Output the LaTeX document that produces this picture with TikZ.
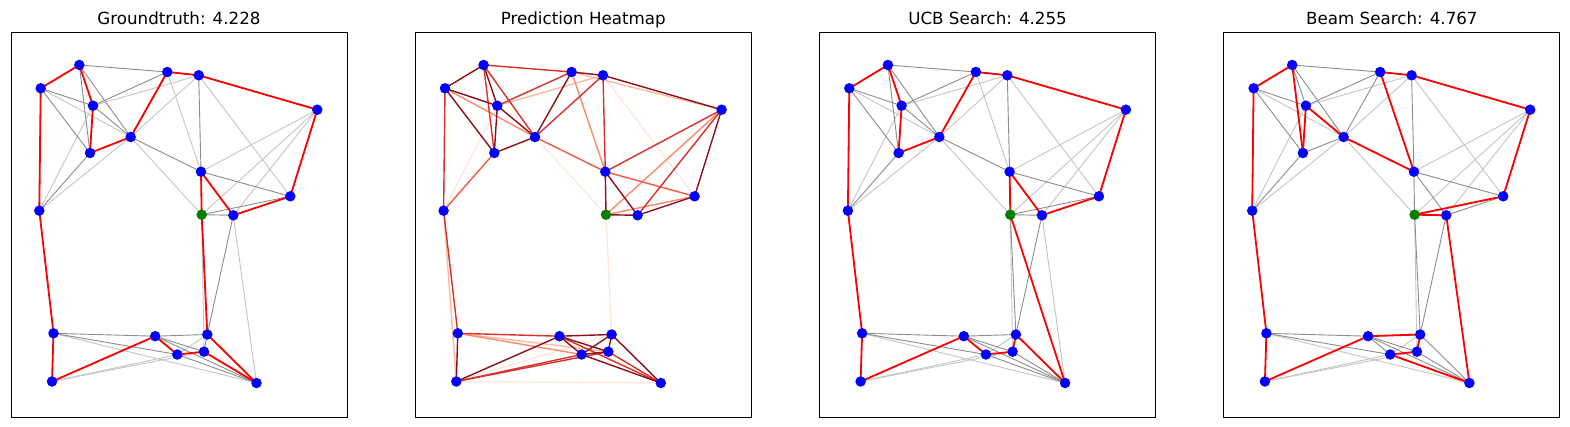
\documentclass[tikz,border=0pt]{standalone}
\usepackage{fontspec}
\setmainfont{DejaVu Sans}
\pgfdeclarelayer{edgelayer}
\pgfsetlayers{edgelayer,main}
\definecolor{nblue}{HTML}{0000FF}
\definecolor{ngreen}{HTML}{008000}
\definecolor{gdark}{HTML}{8C8C8C}
\definecolor{glight}{HTML}{C4C4C4}
\definecolor{hdark}{HTML}{8E0F17}
\definecolor{hred}{HTML}{D8302A}
\definecolor{hmid}{HTML}{F25A3E}
\definecolor{hsal}{HTML}{FC8A6A}
\definecolor{hlight}{HTML}{FCBBA1}
\definecolor{hvlight}{HTML}{FEE8DE}
\tikzset{
  dot/.style={circle,inner sep=0pt,minimum size=10.5pt,draw=none},
  frame/.style={draw=black,line width=1pt},
  gd/.style={draw=gdark,line width=0.9pt},
  gl/.style={draw=glight,line width=0.9pt},
  tour/.style={draw=red,line width=1.8pt},
  heat/.style={line width=1.4pt},
  ttl/.style={anchor=base,inner sep=0pt,font=\fontsize{16.7}{20}\selectfont}
}
\newcommand\placepanel[3]{% prefix, xshift, title
  \begin{scope}[xshift=#2]
    \draw[frame] (0,32.3) rectangle (336,417);
    \node[ttl] (#1title) at (168,24.5) {#3};
    \foreach \n/\x/\y/\c in {A/68.3/65/nblue,B/29.7/88.3/nblue,C/82/105.7/nblue,D/156.3/72/nblue,
      E/187.7/75.3/nblue,F/306.3/109.7/nblue,G/119.7/137/nblue,H/79/153/nblue,I/190/171.7/nblue,
      J/279.3/196.3/nblue,K/28.3/210.7/nblue,L/190.7/214.7/ngreen,M/222.3/215.3/nblue,
      N/42.5/333.3/nblue,O/144.2/336.2/nblue,P/196.3/334.5/nblue,Q/166.3/354.5/nblue,
      R/193/351.7/nblue,S/41/381.5/nblue,T/245.5/383/nblue}
      \node[dot,fill=\c] (#1\n) at (\x,\y) {};
  \end{scope}}
\newcommand\edgeset[3]{% prefix, style, list
  \begin{pgfonlayer}{edgelayer}
    \foreach \a/\b in {#3} \draw[#2] (#1\a.center) -- (#1\b.center);
  \end{pgfonlayer}}
\newcommand\graphedges[1]{%
  \edgeset{#1}{gl}{B/G,C/E,C/K,D/I,E/G,E/J,F/I,F/L,F/M,G/K,G/L,K/N,L/R,M/T,N/T,P/Q,Q/S,R/S}
  \edgeset{#1}{gd}{A/B,A/C,A/D,A/G,A/H,B/C,B/H,B/K,C/D,C/G,C/H,D/E,D/G,E/F,E/I,F/J,G/H,G/I,H/K,
    I/J,I/L,I/M,J/L,J/M,L/M,L/P,M/P,N/O,N/Q,N/S,O/P,O/Q,O/R,O/S,O/T,P/R,P/T,Q/R,Q/T,R/T}}
\begin{document}
\begin{tikzpicture}[x=1pt,y=-1pt]
\useasboundingbox (0,0) rectangle (1570,427);
\placepanel{a}{11pt}{Groundtruth: 4.228}
\placepanel{b}{415.3pt}{Prediction Heatmap}
\placepanel{c}{819.6pt}{UCB Search: 4.255}
\placepanel{d}{1223.9pt}{Beam Search: 4.767}
% panel 1
\graphedges{a}
\edgeset{a}{tour}{B/A,A/C,C/H,H/G,G/D,D/E,E/F,F/J,J/M,M/I,I/L,L/P,P/T,T/R,R/Q,Q/O,O/S,S/N,N/K,K/B}
% panel 2 heatmap
\edgeset{b}{heat,draw=hvlight}{C/K,G/L,E/J,L/P,S/P,S/T}
\edgeset{b}{heat,draw=hlight}{C/E,D/F,N/R,K/S}
\edgeset{b}{heat,draw=hsal}{B/G,D/I,F/L,J/L,N/Q}
\edgeset{b}{heat,draw=hmid}{G/I,H/K,I/J}
\edgeset{b}{heat,draw=hred}{A/D,A/H,A/G,B/K,C/D,E/G,E/I,F/I,F/M,K/N,N/O,S/Q,S/R,O/T,R/T}
\edgeset{b}{heat,draw=hdark}{A/B,A/C,B/C,B/H,C/H,C/G,D/E,D/G,E/F,F/J,G/H,I/L,I/M,L/M,J/M,N/S,O/S,O/P,O/Q,O/R,P/Q,P/R,P/T,Q/R,Q/T}
% panel 3
\graphedges{c}
\edgeset{c}{tour}{B/A,A/C,C/H,H/G,G/D,D/E,E/F,F/J,J/M,M/I,I/L,L/T,T/P,P/R,R/Q,Q/O,O/S,S/N,N/K,K/B}
% panel 4
\graphedges{d}
\edgeset{d}{tour}{B/A,A/H,H/C,C/G,G/I,I/D,D/E,E/F,F/J,J/L,L/M,M/T,T/Q,Q/R,R/P,P/O,O/S,S/N,N/K,K/B}
\end{tikzpicture}
\end{document}
